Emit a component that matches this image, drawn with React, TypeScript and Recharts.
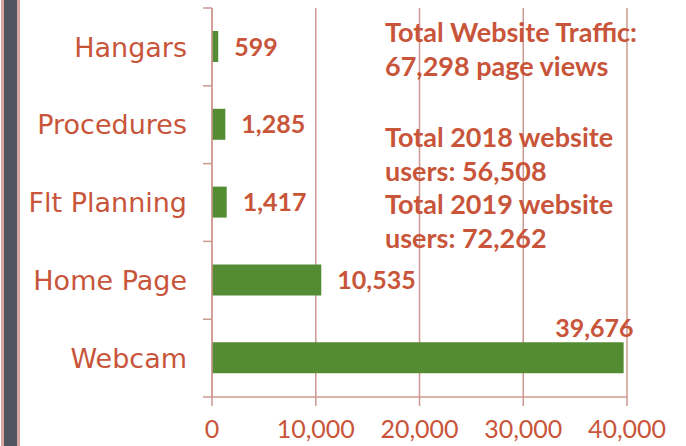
import React from 'react';
import { BarChart, Bar, XAxis, YAxis, CartesianGrid, LabelList } from 'recharts';

const pages = ['Hangars', 'Procedures', 'Flt Planning', 'Home Page', 'Webcam'];
const views = [599, 1285, 1417, 10535, 39676];
const xTicks = [0, 10000, 20000, 30000, 40000];
const notesTop = ['Total Website Traffic:', '67,298 page views'];
const notesBottom = ['Total 2018 website', 'users: 56,508', 'Total 2019 website', 'users: 72,262'];

const data = pages.map((name, i) => ({ name, views: views[i] }));

const ORANGE = '#C8553A';
const AXIS = '#CC9890';
const GREEN = '#548C34';

const fmt = (v: number) => v.toLocaleString('en-US');

// category label plus Excel-style tick marks on the band edges
const PageTick = (props: any) => {
  const { x, y, payload, index, visibleTicksCount, height } = props;
  const n = visibleTicksCount || pages.length;
  const band = (height || 389) / n;
  return (
    <g>
      <line x1={x - 9} x2={x} y1={y - band / 2} y2={y - band / 2} stroke={AXIS} strokeWidth={1.5} />
      {index === n - 1 && (
        <line x1={x - 9} x2={x} y1={y + band / 2} y2={y + band / 2} stroke={AXIS} strokeWidth={1.5} />
      )}
      <text x={x - 25} y={y} dy="0.36em" textAnchor="end" fill={ORANGE} fontSize={27} fontFamily="DejaVu Sans">
        {payload.value}
      </text>
    </g>
  );
};

const ValueLabel = (props: any) => {
  const { x, y, width, height, value } = props;
  const big = value > 20000;
  return (
    <text
      x={big ? x + width + 10 : x + width + 16}
      y={big ? y - 5 : y + height / 2}
      dy={big ? 0 : '0.36em'}
      textAnchor={big ? 'end' : 'start'}
      fill={ORANGE}
      fontSize={25}
      fontWeight={700}
      fontFamily="Lato"
    >
      {fmt(value)}
    </text>
  );
};

const noteStyle: React.CSSProperties = {
  position: 'absolute',
  left: 385,
  color: ORANGE,
  fontFamily: 'Lato',
  fontWeight: 700,
  fontSize: 27,
  lineHeight: '33.5px',
  whiteSpace: 'nowrap',
};

export default function App() {
  return (
    <div style={{ position: 'fixed', left: 0, top: 0, width: 686, height: 446, background: '#fff', overflow: 'hidden' }}>
      <div style={{ position: 'absolute', left: 1, top: 0, width: 19, height: 446, background: '#D6A79F' }} />
      <div style={{ position: 'absolute', left: 4, top: 0, width: 13, height: 446, background: '#50555F' }} />
      <BarChart
        width={686}
        height={446}
        data={data}
        layout="vertical"
        margin={{ top: 8, right: 59, bottom: 0, left: 0 }}
        barCategoryGap="0%"
      >
        <CartesianGrid horizontal={false} stroke={AXIS} strokeWidth={1.5} />
        <XAxis
          type="number"
          domain={[0, 40000]}
          ticks={xTicks}
          tickFormatter={fmt}
          height={49}
          stroke={AXIS}
          strokeWidth={1.5}
          tickSize={9}
          tickMargin={14}
          tick={{ fill: ORANGE, fontSize: 25, fontFamily: 'Lato' }}
          interval={0}
        />
        <YAxis
          type="category"
          dataKey="name"
          width={212}
          stroke={AXIS}
          strokeWidth={1.5}
          tickLine={false}
          tickSize={0}
          tickMargin={0}
          tick={<PageTick />}
          interval={0}
        />
        <Bar dataKey="views" fill={GREEN} barSize={31} isAnimationActive={false}>
          <LabelList dataKey="views" content={<ValueLabel />} />
        </Bar>
      </BarChart>
      <div style={{ ...noteStyle, top: 15 }}>
        {notesTop.map((t) => (
          <div key={t}>{t}</div>
        ))}
      </div>
      <div style={{ ...noteStyle, top: 120 }}>
        {notesBottom.map((t) => (
          <div key={t}>{t}</div>
        ))}
      </div>
    </div>
  );
}
